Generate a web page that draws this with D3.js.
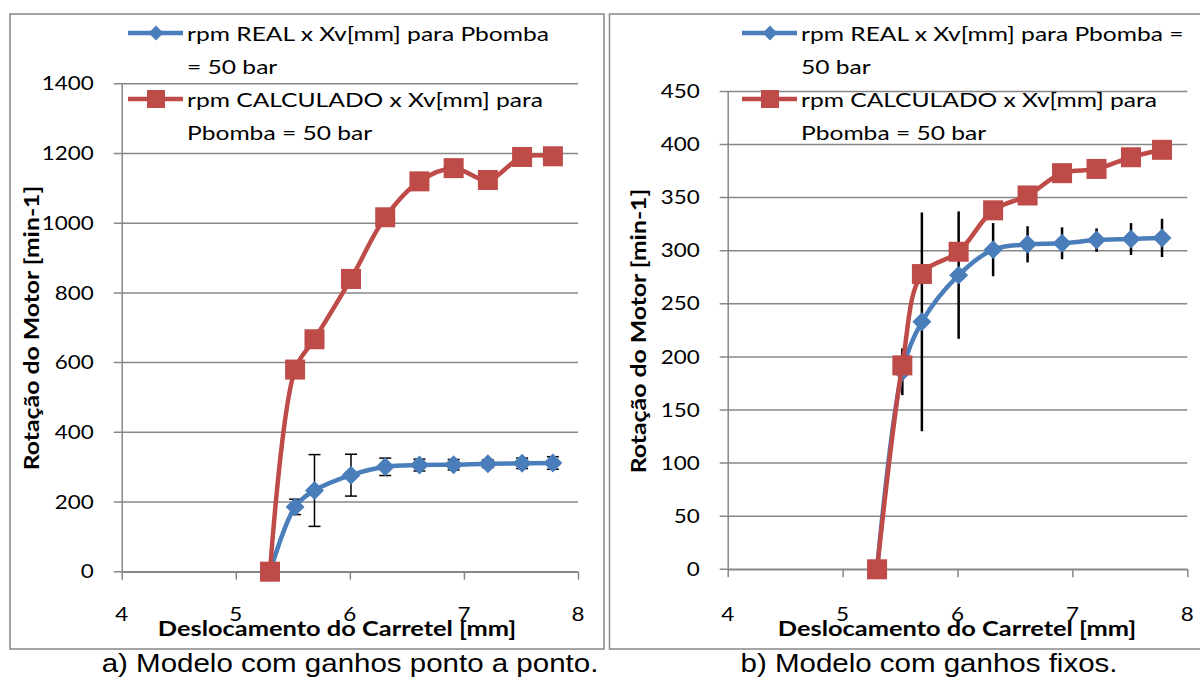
<!DOCTYPE html>
<html>
<head>
<meta charset="utf-8">
<script src="https://cdn.jsdelivr.net/npm/d3@7"></script>
<style>
  body { margin: 0; background: #fff; }
  svg { display: block; }
  text { font-family: Lato, "Noto Sans", sans-serif; fill: #000; }
  .caption { font-family: "Liberation Sans", Arial, sans-serif; }
</style>
</head>
<body>
<svg id="chart" width="1200" height="681"></svg>
<script>
// data
const xValues = [5.3, 5.52, 5.69, 6.01, 6.31, 6.61, 6.91, 7.21, 7.51, 7.78]
const rpmReal = [0, 186, 233, 277, 301, 306, 307, 310, 311, 312]
const rpmRealErr = [0, 22, 103, 60, 25, 17, 15, 11, 15, 18]
const rpmCalcA = [0, 580, 667, 840, 1017, 1120, 1158, 1124, 1190, 1192]
const rpmCalcB = [0, 192, 278, 299, 338, 352, 373, 377, 388, 395]
const xTicks = [4, 5, 6, 7, 8]
const yTicksA = [0, 200, 400, 600, 800, 1000, 1200, 1400]
const yTicksB = [0, 50, 100, 150, 200, 250, 300, 350, 400, 450]
const legendA = [['rpm REAL x Xv[mm] para Pbomba', '= 50 bar'], ['rpm CALCULADO x Xv[mm] para', 'Pbomba = 50 bar']]
const legendB = [['rpm REAL x Xv[mm] para Pbomba =', '50 bar'], ['rpm CALCULADO x Xv[mm] para', 'Pbomba = 50 bar']]
const xTitle = 'Deslocamento do Carretel [mm]'
const yTitle = 'Rotação do Motor [min-1]'
const captions = ['a) Modelo com ganhos ponto a ponto.', 'b) Modelo com ganhos fixos.']

const blue = '#4a7ebb'
const red = '#be4b48'
const grid = '#878787'

let svg = d3.select('#chart')

// text that is widened a little (the source picture is stretched sideways)
function txt(parent, str, x, y, o) {
    let t = parent.append('text')
        .attr('transform', 'translate(' + x + ',' + y + ')' + (o.rot ? ' rotate(-90)' : '') + ' scale(' + o.sx + ',1)')
        .attr('text-anchor', o.anchor || 'start')
        .style('font-size', o.size + 'px')
        .text(str)
    if (o.bold) t.style('font-weight', 'bold')
    if (o.cls) t.attr('class', o.cls)
    if (o.dy) t.attr('dy', o.dy)
    return t
}

function drawChart(opt) {
    let g = svg.append('g')

    // outer frame
    g.append('rect')
        .attr('x', opt.frame[0]).attr('y', opt.frame[1])
        .attr('width', opt.frame[2]).attr('height', opt.frame[3])
        .attr('fill', 'none').attr('stroke', grid).attr('stroke-width', 1.5)

    let x = d3.scaleLinear().domain([4, 8]).range([opt.left, opt.right])
    let y = d3.scaleLinear().domain([0, opt.yMax]).range([opt.bottom, opt.top])

    // horizontal gridlines
    g.append('g')
        .selectAll('line')
        .data(opt.yTicks)
        .enter()
        .append('line')
        .attr('x1', opt.left - 8).attr('x2', opt.right)
        .attr('y1', (d) => y(d)).attr('y2', (d) => y(d))
        .attr('stroke', grid).attr('stroke-width', 1.5)

    // y axis line
    let yAxis = g.append('g')
        .attr('transform', 'translate(' + opt.left + ',0)')
        .call(d3.axisLeft(y).tickValues(opt.yTicks).tickSize(0).tickFormat(''))
    yAxis.select('.domain').attr('stroke', grid).attr('stroke-width', 1.5)

    // x axis line + ticks
    let xAxis = g.append('g')
        .attr('transform', 'translate(0,' + opt.bottom + ')')
        .call(d3.axisBottom(x).tickValues(xTicks).tickSizeInner(8).tickSizeOuter(0).tickFormat(''))
    xAxis.select('.domain').attr('stroke', grid).attr('stroke-width', 1.5)
    xAxis.selectAll('.tick line').attr('stroke', grid).attr('stroke-width', 1.5)

    // tick labels
    opt.yTicks.forEach((d) => {
        txt(g, d3.format('d')(d), opt.left - 28, y(d), { size: 19, sx: 1.18, anchor: 'end', dy: '0.35em' })
    })
    xTicks.forEach((d) => {
        txt(g, d3.format('d')(d), x(d), 621, { size: 19, sx: 1.18, anchor: 'middle' })
    })

    // axis titles
    txt(g, xTitle, opt.xTitleX, 636, { size: 20, sx: 1.27, anchor: 'middle', bold: true })
    txt(g, yTitle, opt.yTitleX, opt.yTitleY, { size: 21, sx: 1.18, anchor: 'middle', bold: true, rot: true })

    let pts = (vals) => xValues.map((d, i) => [x(d), y(vals[i])])
    let line = d3.line().curve(d3.curveCatmullRom.alpha(0.5))

    // error bars of the measured series
    let eb = g.append('g')
        .selectAll('g')
        .data(xValues)
        .enter()
        .append('g')
        .attr('stroke', '#000')
        .attr('stroke-width', opt.capW ? 1.5 : 2.5)
    eb.append('line')
        .attr('x1', (d) => x(d)).attr('x2', (d) => x(d))
        .attr('y1', (d, i) => y(rpmReal[i] + rpmRealErr[i]))
        .attr('y2', (d, i) => y(rpmReal[i] - rpmRealErr[i]))
    if (opt.capW) {
        [1, -1].forEach((s) => {
            eb.append('line')
                .attr('x1', (d) => x(d) - opt.capW).attr('x2', (d) => x(d) + opt.capW)
                .attr('y1', (d, i) => y(rpmReal[i] + s * rpmRealErr[i]))
                .attr('y2', (d, i) => y(rpmReal[i] + s * rpmRealErr[i]))
        })
    }

    // measured series (blue, diamonds)
    g.append('path')
        .attr('d', line(pts(rpmReal)))
        .attr('fill', 'none').attr('stroke', blue).attr('stroke-width', 4.5)
    g.append('g')
        .selectAll('path')
        .data(pts(rpmReal))
        .enter()
        .append('path')
        .attr('d', d3.symbol(d3.symbolSquare, 180)())
        .attr('transform', (d) => 'translate(' + d[0] + ',' + d[1] + ') rotate(45)')
        .attr('fill', blue)

    // calculated series (red, squares)
    g.append('path')
        .attr('d', line(pts(opt.calc)))
        .attr('fill', 'none').attr('stroke', red).attr('stroke-width', 4.5)
    g.append('g')
        .selectAll('rect')
        .data(pts(opt.calc))
        .enter()
        .append('rect')
        .attr('x', (d) => d[0] - 10).attr('y', (d) => d[1] - 10)
        .attr('width', 20).attr('height', 20)
        .attr('fill', red)

    // legend
    let lg = g.append('g')
    opt.legend.forEach((lines, k) => {
        let cy = 33 + k * 66
        let col = k == 0 ? blue : red
        lg.append('line')
            .attr('x1', opt.legX).attr('x2', opt.legX + 55)
            .attr('y1', cy).attr('y2', cy)
            .attr('stroke', col).attr('stroke-width', 4.5)
        if (k == 0) {
            lg.append('path')
                .attr('d', d3.symbol(d3.symbolSquare, 110)())
                .attr('transform', 'translate(' + (opt.legX + 28) + ',' + cy + ') rotate(45)')
                .attr('fill', col)
        } else {
            lg.append('rect')
                .attr('x', opt.legX + 19).attr('y', cy - 9)
                .attr('width', 18).attr('height', 18)
                .attr('fill', col)
        }
        lines.forEach((t, j) => {
            txt(lg, t, opt.legX + 59, cy + 8 + j * 33, { size: 20, sx: 1.23 })
        })
    })

    // caption
    txt(svg, opt.caption, opt.capX, 672, { size: 25, sx: 1.18, anchor: 'middle', cls: 'caption' })
}

drawChart({
    frame: [10, 14, 594, 635],
    left: 121.7, right: 578, top: 83.8, bottom: 571.7,
    yMax: 1400, yTicks: yTicksA, calc: rpmCalcA,
    capW: 6, legend: legendA, legX: 128,
    xTitleX: 337, yTitleX: 39, yTitleY: 328,
    caption: captions[0], capX: 350
})

drawChart({
    frame: [609.5, 14, 620, 635],
    left: 727.7, right: 1187.3, top: 91.4, bottom: 569.3,
    yMax: 450, yTicks: yTicksB, calc: rpmCalcB,
    capW: 0, legend: legendB, legX: 742,
    xTitleX: 957, yTitleX: 646, yTitleY: 331,
    caption: captions[1], capX: 929
})
</script>
</body>
</html>
